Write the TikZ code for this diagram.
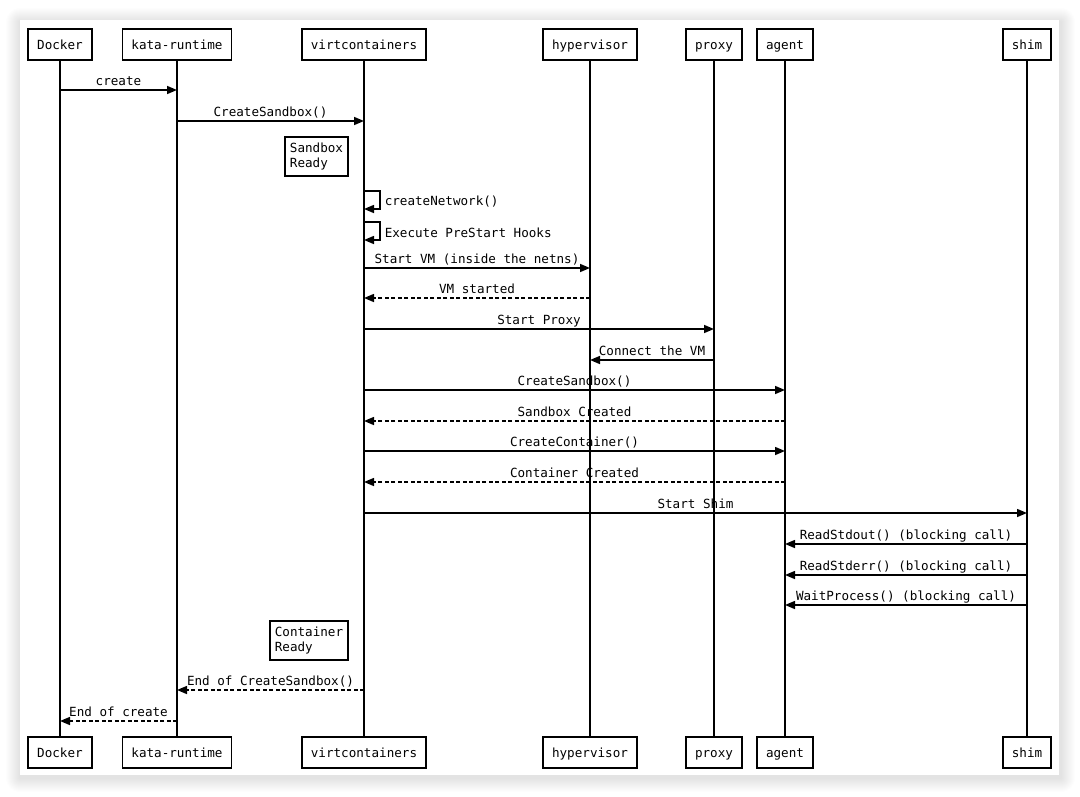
\documentclass[tikz,border=0pt]{standalone}
\usepackage{fontspec}
\newfontfamily\monofnt{DejaVu Sans Mono}
\usetikzlibrary{arrows.meta}
\begin{document}
\begin{tikzpicture}[x=1pt,y=-1pt,
  every node/.style={font=\monofnt\fontsize{12.6}{14.5}\selectfont},
  actor/.style={draw,line width=1.5pt,inner xsep=9pt,inner ysep=0pt,minimum height=31pt,text height=9.2pt,text depth=0pt,fill=white},
  life/.style={line width=1.5pt},
  msg/.style={line width=1.5pt,-{Triangle[length=10pt,width=8pt]}},
  ret/.style={msg,dash pattern=on 4pt off 2.5pt},
  lbl/.style={anchor=base,inner sep=0pt,yshift=5pt},
  loopl/.style={anchor=west,inner sep=0pt,xshift=4pt,yshift=-1.5pt},
  note/.style={draw,line width=1.5pt,align=left,inner xsep=5pt,inner ysep=6pt,fill=white}
]
\useasboundingbox (0,0) rectangle (1080,796);
\fill[white] (0,0) rectangle (1080,796);
% soft card shadow
\foreach \i in {1,...,14}{
  \fill[black,opacity=0.007,rounded corners=\i pt] (20-\i,22-\i) rectangle (1061+\i,778+\i);
}
\fill[white] (20,20) rectangle (1059,775);

% actors
\foreach \n/\x/\t in {dock/60/Docker,kata/177/kata-runtime,vc/364/virtcontainers,hyp/590/hypervisor,prox/714/proxy,agt/785/agent,shim/1027/shim}{
  \node[actor] (\n T) at (\x,44.5) {\t};
  \node[actor] (\n B) at (\x,752.5) {\t};
  \draw[life] (\n T.south) -- (\n B.north);
}

% messages
\draw[msg] (dockT |- 0,90) -- node[lbl]{create} (kataT |- 0,90);
\draw[msg] (kataT |- 0,121) -- node[lbl]{CreateSandbox()} (vcT |- 0,121);
\node[note] (sbready) at (316.5,156.5) {Sandbox\\Ready};
\draw[msg] (vcT |- 0,191) -- ++(16,0) -- node[loopl]{createNetwork()} ++(0,18) -- (vcT |- 0,209);
\draw[msg] (vcT |- 0,222) -- ++(16,0) -- node[loopl]{Execute PreStart Hooks} ++(0,18) -- (vcT |- 0,240);
\draw[msg] (vcT |- 0,268) -- node[lbl]{Start VM (inside the netns)} (hypT |- 0,268);
\draw[ret] (hypT |- 0,298) -- node[lbl]{VM started} (vcT |- 0,298);
\draw[msg] (vcT |- 0,329) -- node[lbl]{Start Proxy} (proxT |- 0,329);
\draw[msg] (proxT |- 0,360) -- node[lbl]{Connect the VM} (hypT |- 0,360);
\draw[msg] (vcT |- 0,390) -- node[lbl]{CreateSandbox()} (agtT |- 0,390);
\draw[ret] (agtT |- 0,421) -- node[lbl]{Sandbox Created} (vcT |- 0,421);
\draw[msg] (vcT |- 0,451) -- node[lbl]{CreateContainer()} (agtT |- 0,451);
\draw[ret] (agtT |- 0,482) -- node[lbl]{Container Created} (vcT |- 0,482);
\draw[msg] (vcT |- 0,513) -- node[lbl]{Start Shim} (shimT |- 0,513);
\draw[msg] (shimT |- 0,544) -- node[lbl]{ReadStdout() (blocking call)} (agtT |- 0,544);
\draw[msg] (shimT |- 0,575) -- node[lbl]{ReadStderr() (blocking call)} (agtT |- 0,575);
\draw[msg] (shimT |- 0,605) -- node[lbl]{WaitProcess() (blocking call)} (agtT |- 0,605);
\node[note] (ctready) at (309,640.5) {Container\\Ready};
\draw[ret] (vcT |- 0,690) -- node[lbl]{End of CreateSandbox()} (kataT |- 0,690);
\draw[ret] (kataT |- 0,721) -- node[lbl]{End of create} (dockT |- 0,721);
\end{tikzpicture}
\end{document}
